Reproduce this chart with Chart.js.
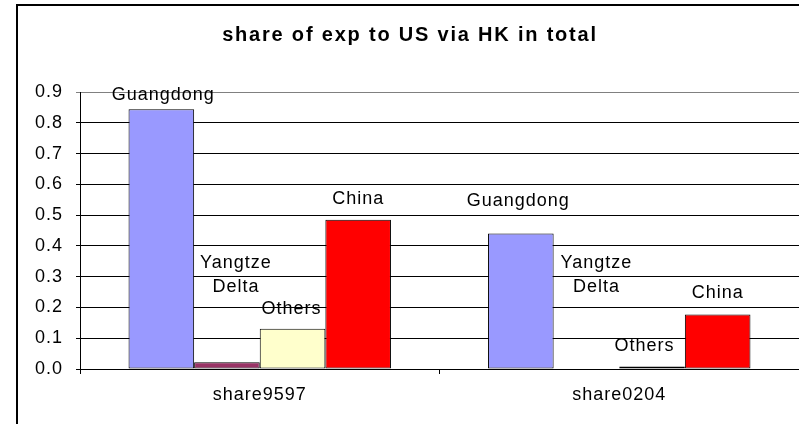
<!DOCTYPE html>
<html><head><meta charset="utf-8">
<script src="https://cdn.jsdelivr.net/npm/chart.js@4/dist/chart.umd.min.js"></script>
<style>html,body{margin:0;padding:0;background:#fff;} #wrap{width:799px;height:424px;position:relative;overflow:hidden;}</style>
</head><body><div id="wrap"><canvas id="c" width="799" height="424"></canvas></div>
<script>
// ---- data ----
const categories = ['share9597', 'share0204'];
const seriesNames = ['Guangdong', 'Yangtze Delta', 'Others', 'China'];
const guangdong = [0.844, 0.44];
const yangtzeDelta = [0.022, 0.0];
const others = [0.131, 0.008];
const china = [0.485, 0.177];
const yMin = 0.0, yMax = 0.9, yStep = 0.1;
const titleText = 'share of exp to US via HK in total';

// ---- styles ----
const FONT = '"Liberation Sans", Arial, sans-serif';
const colors = ['#9999FF', '#993366', '#FFFFCC', '#FF0000'];
// label offsets [dx, dy] relative to bar top-centre (layout, not data)
const labelOffsets = [
  [[2, -14], [-2.5, -33]],
  [[9, -87], [10, -94]],
  [[-1, -20], [-7.5, -21]],
  [[0, -21], [0, -21]]
];

const seriesValues = [guangdong, yangtzeDelta, others, china];

const spacingPlugin = {
  id: 'spacing',
  beforeDraw(chart) {
    const ctx = chart.ctx;
    ctx.letterSpacing = '1px';
    ctx.save();
    ctx.fillStyle = '#fff';
    ctx.fillRect(0, 0, chart.width, chart.height);
    ctx.restore();
  },
  afterDraw(chart) {
    const ctx = chart.ctx;
    ctx.save();
    // chart border
    ctx.strokeStyle = '#000';
    ctx.lineWidth = 2;
    ctx.strokeRect(17, 5, 900, 900);
    // title
    ctx.letterSpacing = '1.8px';
    ctx.fillStyle = '#000';
    ctx.font = 'bold 20px ' + FONT;
    ctx.textAlign = 'center';
    ctx.textBaseline = 'alphabetic';
    ctx.fillText(titleText, 410, 41);
    ctx.restore();
  },
  afterDatasetsDraw(chart) {
    const ctx = chart.ctx;
    ctx.save();
    ctx.letterSpacing = '1px';
    ctx.fillStyle = '#000';
    ctx.font = '18px ' + FONT;
    ctx.textAlign = 'center';
    ctx.textBaseline = 'middle';
    chart.data.datasets.forEach((ds, i) => {
      const meta = chart.getDatasetMeta(i);
      meta.data.forEach((bar, j) => {
        const off = labelOffsets[i][j];
        const lines = ds.label.split(' ');
        const lh = 24;
        const cx = bar.x + off[0];
        const cy = bar.y + off[1];
        lines.forEach((t, k) => {
          ctx.fillText(t, cx, cy + (k - (lines.length - 1) / 2) * lh);
        });
      });
    });
    ctx.restore();
  }
};

new Chart(document.getElementById('c'), {
  type: 'bar',
  data: {
    labels: categories,
    datasets: seriesNames.map((n, i) => ({
      label: n,
      data: seriesValues[i],
      backgroundColor: colors[i],
      borderColor: '#000',
      borderWidth: 1,
      borderSkipped: false
    }))
  },
  options: {
    responsive: false,
    animation: false,
    devicePixelRatio: 1,
    layout: { padding: { top: 92, left: 0, right: -2, bottom: 0 } },
    datasets: { bar: { barPercentage: 1, categoryPercentage: 0.73 } },
    plugins: { legend: { display: false }, title: { display: false }, tooltip: { enabled: false } },
    scales: {
      x: {
        offset: true,
        grid: { display: true, offset: true, drawOnChartArea: false, drawTicks: true, tickLength: 5, color: '#000', lineWidth: 1 },
        border: { display: true, color: '#000', width: 1 },
        ticks: { color: '#000', font: { family: FONT, size: 18 }, padding: 10, maxRotation: 0 },
        afterFit(s) { s.height = 55; }
      },
      y: {
        min: yMin, max: yMax,
        grid: { color: (c) => (c.tick && Math.abs(c.tick.value - yMax) < 1e-9) ? '#808080' : '#000', lineWidth: 1, tickLength: 4, drawTicks: true },
        border: { display: true, color: '#000', width: 1 },
        ticks: { stepSize: yStep, color: '#000', font: { family: FONT, size: 18 }, padding: 13,
          callback: (v) => Number(v).toFixed(1) },
        afterFit(s) { s.width = 80; }
      }
    }
  },
  plugins: [spacingPlugin]
});
</script>
</body></html>
